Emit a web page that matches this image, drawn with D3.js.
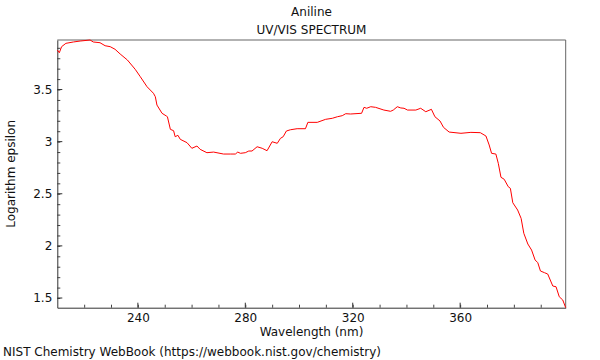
<!DOCTYPE html>
<html>
<head>
<meta charset="utf-8">
<script src="https://cdn.jsdelivr.net/npm/d3@7"></script>
<style>
  body { margin: 0; background: #fff; }
  text { font-family: "DejaVu Sans", sans-serif; fill: #111; }
</style>
</head>
<body>
<script>
const margin = { top: 40, right: 34.3, bottom: 52.3, left: 57.3 };
const width = 600 - margin.left - margin.right;
const height = 360 - margin.top - margin.bottom;

const titleLines = ["Aniline", "UV/VIS SPECTRUM"];
const xTicks = [240, 280, 320, 360];
const yTicks = [1.5, 2, 2.5, 3, 3.5];

// wavelength (nm) and log epsilon
const wavelength = [210.0, 210.75, 211.6, 213.2, 216.0, 218.5, 222.2, 223.4, 225.9, 227.8,
    229.7, 231.5, 233.4, 236.1, 239.0, 240.9, 243.4, 245.8, 246.5, 247.1,
    249.0, 250.6, 251.0, 252.1, 253.3, 253.9, 254.9, 255.8, 258.3, 260.1,
    262.0, 263.2, 265.7, 268.2, 271.9, 274.4, 276.3, 277.2, 278.2, 280.0,
    281.3, 282.5, 284.4, 286.3, 288.1, 290.0, 291.9, 293.1, 294.1, 295.3,
    296.8, 299.3, 302.4, 303.3, 306.8, 309.9, 312.4, 314.3, 316.1, 317.4,
    319.2, 323.3, 324.2, 325.2, 326.7, 328.5, 331.6, 334.1, 335.1, 336.6,
    337.9, 339.1, 340.4, 343.5, 345.3, 347.2, 349.3, 350.6, 352.5, 353.8,
    355.9, 360.3, 364.0, 367.5, 369.6, 370.8, 371.7, 373.3, 374.2, 375.2,
    376.4, 377.9, 378.7, 379.6, 381.4, 382.7, 383.7, 385.2, 386.6, 387.9,
    388.9, 389.9, 391.4, 392.6, 394.5, 395.7, 396.9, 398.2, 399.3];
const logEpsilon = [3.879, 3.853, 3.911, 3.943, 3.956, 3.965, 3.975, 3.956, 3.949, 3.920,
    3.911, 3.886, 3.841, 3.783, 3.694, 3.623, 3.527, 3.464, 3.431, 3.351,
    3.272, 3.246, 3.239, 3.118, 3.105, 3.047, 3.061, 3.022, 2.990, 2.936,
    2.958, 2.926, 2.894, 2.900, 2.881, 2.881, 2.881, 2.900, 2.888, 2.894,
    2.910, 2.910, 2.951, 2.936, 2.913, 2.999, 2.984, 3.032, 3.047, 3.102,
    3.114, 3.124, 3.124, 3.185, 3.185, 3.214, 3.224, 3.239, 3.249, 3.268,
    3.265, 3.272, 3.329, 3.320, 3.335, 3.329, 3.303, 3.291, 3.303, 3.335,
    3.323, 3.320, 3.303, 3.303, 3.320, 3.287, 3.310, 3.239, 3.198, 3.137,
    3.092, 3.080, 3.089, 3.086, 3.054, 2.968, 2.888, 2.881, 2.792, 2.658,
    2.639, 2.568, 2.552, 2.414, 2.344, 2.264, 2.121, 2.018, 1.960, 1.865,
    1.839, 1.759, 1.743, 1.730, 1.615, 1.608, 1.512, 1.481, 1.407];

const svg = d3.select("body").append("svg")
    .attr("width", 600)
    .attr("height", 360);

const g = svg.append("g")
    .attr("transform", `translate(${margin.left},${margin.top})`);

const xScale = d3.scaleLinear()
    .domain([210, 399.3])
    .range([0, width]);

const yScale = d3.scaleLinear()
    .domain([1.407, 3.975])
    .range([height, 0]);

// top and right frame
g.append("line")
    .attr("x1", 0).attr("y1", 0)
    .attr("x2", width).attr("y2", 0)
    .attr("stroke", "#999")
    .attr("stroke-width", 1.5);
g.append("line")
    .attr("x1", width).attr("y1", 0)
    .attr("x2", width).attr("y2", height)
    .attr("stroke", "#666")
    .attr("stroke-width", 1);

// minor ticks
g.append("g")
    .attr("transform", `translate(0,${height})`)
    .call(d3.axisTop(xScale).tickValues(d3.range(220, 400, 10)).tickSize(3).tickFormat(""))
    .call(a => a.select(".domain").remove())
    .selectAll("line").attr("stroke", "#444");
g.append("g")
    .call(d3.axisRight(yScale).tickValues(d3.range(1.5, 3.95, 0.1)).tickSize(3).tickFormat(""))
    .call(a => a.select(".domain").remove())
    .selectAll("line").attr("stroke", "#444");

// major axes
const xAxis = g.append("g")
    .attr("transform", `translate(0,${height})`)
    .call(d3.axisBottom(xScale).tickValues(xTicks).tickSize(0).tickPadding(6));
xAxis.select(".domain").attr("stroke", "#333");
xAxis.selectAll("text").style("font-size", "12px").attr("fill", "#111");
xTicks.forEach(t => {
    g.append("line")
        .attr("x1", xScale(t)).attr("x2", xScale(t))
        .attr("y1", height).attr("y2", height - 5)
        .attr("stroke", "#333");
});

const yAxis = g.append("g")
    .call(d3.axisLeft(yScale).tickValues(yTicks).tickSize(0).tickPadding(5)
        .tickFormat(d => d3.format("")(d)));
yAxis.select(".domain").attr("stroke", "#333");
yAxis.selectAll("text").style("font-size", "12px").attr("fill", "#111");
yTicks.forEach(t => {
    g.append("line")
        .attr("x1", 0).attr("x2", 5)
        .attr("y1", yScale(t)).attr("y2", yScale(t))
        .attr("stroke", "#333");
});

const data = wavelength.map((w, i) => ({ w: w, v: logEpsilon[i] }));

const line = d3.line()
    .x(d => xScale(d.w))
    .y(d => yScale(d.v));

g.append("path")
    .datum(data)
    .attr("fill", "none")
    .attr("stroke", "#ff0000")
    .attr("stroke-width", 1)
    .attr("d", line);

// titles and labels
titleLines.forEach((t, i) => {
    svg.append("text")
        .attr("x", margin.left + width / 2)
        .attr("y", 16 + i * 18)
        .attr("text-anchor", "middle")
        .style("font-size", "12px")
        .text(t);
});

svg.append("text")
    .attr("x", margin.left + width / 2)
    .attr("y", 336)
    .attr("text-anchor", "middle")
    .style("font-size", "12px")
    .text("Wavelength (nm)");

svg.append("text")
    .attr("transform", `translate(15,${margin.top + height / 2}) rotate(-90)`)
    .attr("text-anchor", "middle")
    .style("font-size", "12px")
    .text("Logarithm epsilon");

svg.append("text")
    .attr("x", 3)
    .attr("y", 356)
    .style("font-size", "12px")
    .text("NIST Chemistry WebBook (https://webbook.nist.gov/chemistry)");
</script>
</body>
</html>
